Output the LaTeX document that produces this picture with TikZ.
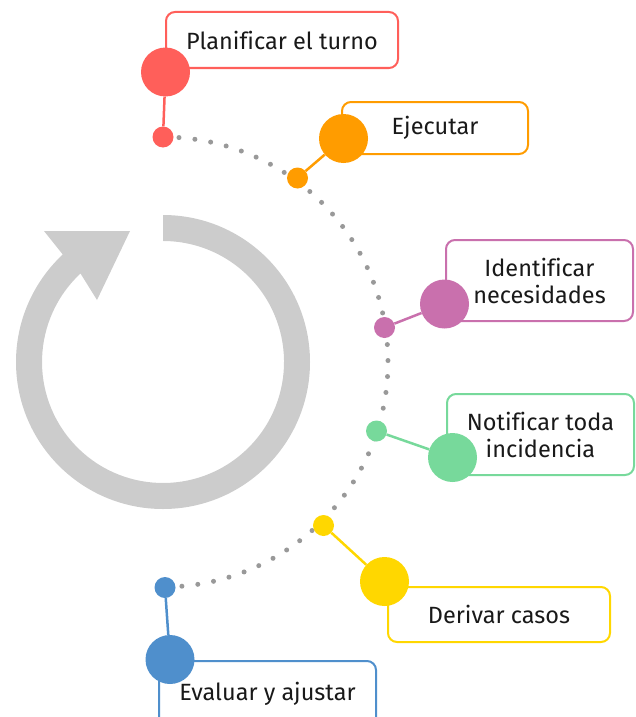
\documentclass[tikz,border=0pt]{standalone}
\usepackage{fontspec}
\setmainfont{Fira Sans}[Ligatures=NoCommon]
\usepackage{tikz}
\usetikzlibrary{positioning}
\definecolor{stepred}{HTML}{FF5F5A}
\definecolor{steporange}{HTML}{FF9C00}
\definecolor{steppink}{HTML}{C970AD}
\definecolor{stepgreen}{HTML}{77D99B}
\definecolor{stepyellow}{HTML}{FFD700}
\definecolor{stepblue}{HTML}{4F8FCC}
\definecolor{ringgray}{HTML}{CCCCCC}
\definecolor{dotgray}{HTML}{999999}
\tikzset {
  % big and small circled vertices
  bigdot/.style = {circle, minimum size=49pt, inner sep=0pt},
  smalldot/.style = {circle, minimum size=21pt, inner sep=0pt},
  % rounded label boxes
  stepbox/.style = {draw, fill=white, rounded corners=9pt, line width=2pt,
    inner sep=0pt, align=center, text=black!90, font=\fontsize{23.5}{27}\selectfont},
  % connector from small to big circle
  link/.style = {line width=2.5pt},
}

\begin{document}
\begin{tikzpicture}[x=1pt, y=-1pt]
        \useasboundingbox (0,0) rectangle (636,717);

        % cycle arrow
        \fill[ringgray] (163,215) arc[start angle=-90, end angle=227, radius=147]
          -- (44,231) -- (130,231) -- (97,300) -- (80.5,273.5)
          arc[start angle=227, end angle=-90, radius=121] -- cycle;

        % dotted path
        \draw[dotgray, line width=5pt, line cap=round, dash pattern=on 0pt off 16pt]
          (163,137) arc[start angle=-90, end angle=90, radius=225];

        % label boxes
        \node[stepbox, draw=stepred, minimum width=232pt, minimum height=56pt] (rbox) at (282,40) {Planificar el turno};
        \node[stepbox, draw=steporange, minimum width=186pt, minimum height=52pt] (obox) at (435,128) {Ejecutar};
        \node[stepbox, draw=steppink, minimum width=187pt, minimum height=81pt] (pbox) at (539.5,280.5) {Identificar\\necesidades};
        \node[stepbox, draw=stepgreen, minimum width=187pt, minimum height=81pt] (gbox) at (540.5,434.5) {Notificar toda\\incidencia};
        \node[stepbox, draw=stepyellow, minimum width=222pt, minimum height=55pt] (ybox) at (499,614.5) {Derivar casos};
        \node[stepbox, draw=stepblue, minimum width=217pt, minimum height=66pt] (bbox) at (267.5,694) {Evaluar y ajustar};

        % small circles on the path
        \node[smalldot, fill=stepred] (rs) at (163,137) {};
        \node[smalldot, fill=steporange] (os) at (297.5,178) {};
        \node[smalldot, fill=steppink] (ps) at (384.5,327.5) {};
        \node[smalldot, fill=stepgreen] (gs) at (376.5,431) {};
        \node[smalldot, fill=stepyellow] (ys) at (323.5,525.5) {};
        \node[smalldot, fill=stepblue] (bs) at (165,587.5) {};

        % big circles
        \node[bigdot, fill=stepred] (rb) at (165.5,72) {};
        \node[bigdot, fill=steporange] (ob) at (343.5,138.5) {};
        \node[bigdot, fill=steppink] (pb) at (444.5,304) {};
        \node[bigdot, fill=stepgreen] (gb) at (452.5,457.5) {};
        \node[bigdot, fill=stepyellow] (yb) at (384.5,581.5) {};
        \node[bigdot, fill=stepblue] (bb) at (170,659.5) {};

        % connectors
        \draw[link, stepred] (rs) -- (rb);
        \draw[link, steporange] (os) -- (ob);
        \draw[link, steppink] (ps) -- (pb);
        \draw[link, stepgreen] (gs) -- (gb);
        \draw[link, stepyellow] (ys) -- (yb);
        \draw[link, stepblue] (bs) -- (bb);
      \end{tikzpicture}
\end{document}
